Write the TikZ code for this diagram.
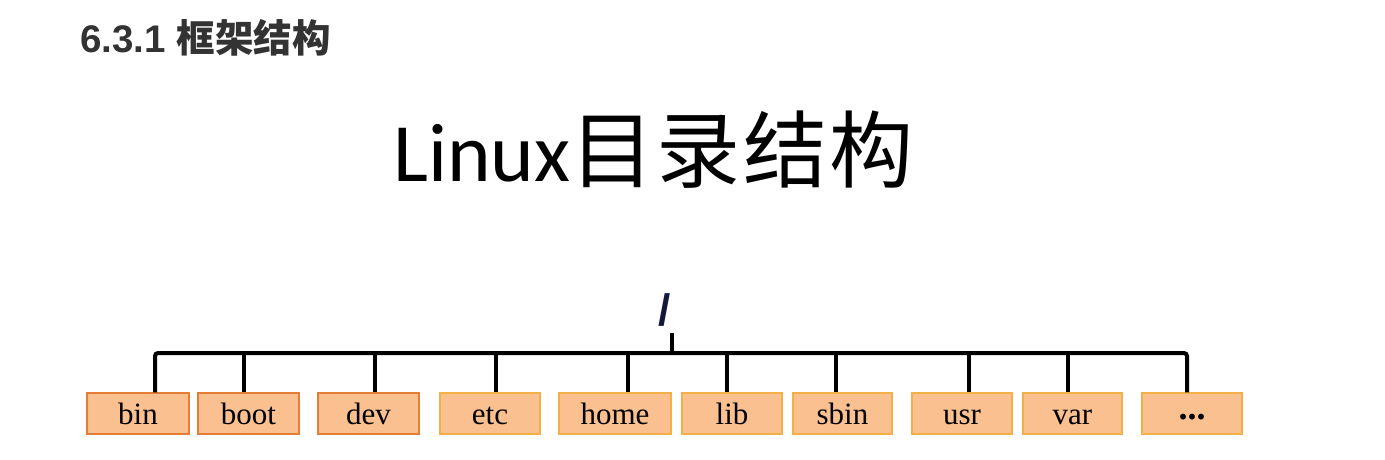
\documentclass[tikz,border=0pt]{standalone}
\usepackage{fontspec}
\setmainfont{Liberation Serif}
\newfontfamily\hsans{Liberation Sans}
\newfontfamily\calib{Carlito}
\newfontfamily\cjk{Noto Sans CJK SC}
\definecolor{boxfill}{RGB}{250,192,144}
\definecolor{boxdarkline}{RGB}{230,125,55}
\definecolor{boxline}{RGB}{244,176,72}
\definecolor{headgray}{RGB}{51,51,51}
\definecolor{slashblue}{RGB}{20,25,60}
\tikzset{
  dirbox/.style={draw=boxline, fill=boxfill, line width=1.5pt, minimum height=41pt,
     inner sep=0pt, text height=22pt, text depth=0pt, font=\fontsize{31}{31}\selectfont},
  dirboxd/.style={dirbox, draw=boxdarkline},
  tree/.style={line width=4pt, black},
}
\begin{document}
\begin{tikzpicture}[x=1pt,y=-1pt]
\useasboundingbox (0,0) rectangle (1385,459);
\fill[white] (0,0) rectangle (1385,459);
% heading
\node[anchor=base west, inner sep=0pt, text=headgray] (head) at (80,52)
  {\hsans\bfseries\fontsize{38.5}{38.5}\selectfont 6.3.1 {\cjk\bfseries 框架结构}};
% title
\node[anchor=base west, inner sep=0pt] (title) at (393,181)
  {\fontsize{83}{83}\selectfont\calib Linux{\cjk\fontsize{84}{84}\selectfont\addfontfeature{LetterSpace=3} 目录结构}};
% root
\node[inner sep=0pt, text=slashblue, font=\hsans\bfseries\fontsize{44}{44}\selectfont] (root) at (665,310) {/};
% boxes
\node[dirboxd, minimum width=102pt] (bin)  at (138,413.5) {bin};
\node[dirboxd, minimum width=101pt] (boot) at (248.5,413.5) {boot};
\node[dirboxd, minimum width=101pt] (dev)  at (368.5,413.5) {dev};
\node[dirbox, minimum width=100pt] (etc)  at (490,413.5) {etc};
\node[dirbox, minimum width=112pt] (home) at (615,413.5) {home};
\node[dirbox, minimum width=100pt] (lib)  at (732,413.5) {lib};
\node[dirbox, minimum width=99pt]  (sbin) at (842.5,413.5) {sbin};
\node[dirbox, minimum width=100pt] (usr)  at (962,413.5) {usr};
\node[dirbox, minimum width=99pt]  (var)  at (1072.5,413.5) {var};
\node[dirbox, minimum width=100pt] (dots) at (1192,413.5) {\raisebox{5pt}{\bfseries\fontsize{36}{36}\selectfont ...}};
% bar points
\coordinate (rb) at (672,353);
\coordinate (p1) at (155,353);
\coordinate (p2) at (244,353);
\coordinate (p3) at (375,353);
\coordinate (p4) at (496,353);
\coordinate (p5) at (628,353);
\coordinate (p6) at (727,353);
\coordinate (p7) at (836,353);
\coordinate (p8) at (969,353);
\coordinate (p9) at (1068,353);
\coordinate (p10) at (1187,353);
% connectors
\draw[tree] (rb |- root.south) ++(0,6) -- (rb);
\draw[tree, rounded corners=3pt] (p1 |- bin.north) -- (p1) -- (p10) -- (p10 |- dots.north);
\draw[tree] (p2) -- (p2 |- boot.north);
\draw[tree] (p3) -- (p3 |- dev.north);
\draw[tree] (p4) -- (p4 |- etc.north);
\draw[tree] (p5) -- (p5 |- home.north);
\draw[tree] (p6) -- (p6 |- lib.north);
\draw[tree] (p7) -- (p7 |- sbin.north);
\draw[tree] (p8) -- (p8 |- usr.north);
\draw[tree] (p9) -- (p9 |- var.north);
\end{tikzpicture}
\end{document}
